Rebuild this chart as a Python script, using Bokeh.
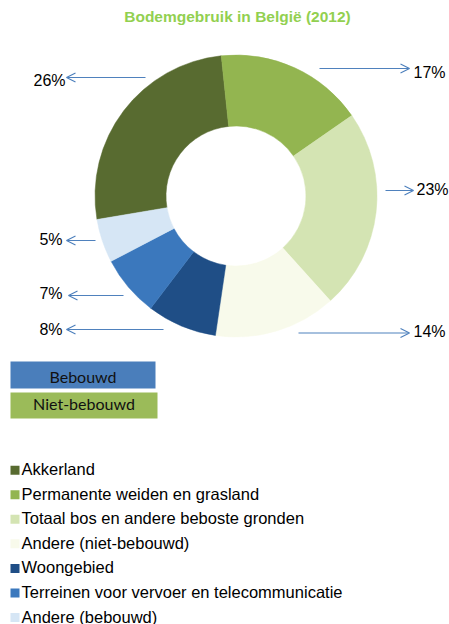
import math
from bokeh.plotting import figure
from bokeh.models import Range1d, Arrow, OpenHead, ColumnDataSource
from bokeh.core.properties import value
from bokeh.embed import file_html
from bokeh.resources import INLINE

# ---------------- data ----------------
title = "Bodemgebruik in België (2012)"
categories = [
    "Akkerland",
    "Permanente weiden en grasland",
    "Totaal bos en andere beboste gronden",
    "Andere (niet-bebouwd)",
    "Woongebied",
    "Terreinen voor vervoer en telecommunicatie",
    "Andere (bebouwd)",
]
shares = [26, 17, 23, 14, 8, 7, 5]  # percent
colors = ["#586B30", "#93B550", "#D4E4B3", "#F8FAEB", "#1F4E86", "#3B78BD", "#D6E6F5"]
groups = ["Bebouwd", "Niet-bebouwd"]
group_colors = ["#4A7EBB", "#9BBB59"]

# ---------------- layout (image pixel coords) ----------------
W, H = 449, 624


def Y(yimg):
    # convert image y (downwards) to data y (upwards)
    return H - yimg


p = figure(width=W, height=H, output_backend="svg", toolbar_location=None,
           x_range=Range1d(0, W), y_range=Range1d(0, H),
           min_border=0)
p.axis.visible = False
p.grid.visible = False
p.outline_line_color = None
p.background_fill_color = "white"

# title
p.text(x=[237], y=[Y(16)], text=[title], text_font=value("Liberation Sans"),
       text_font_size="15.5px", text_font_style="bold", text_color="#92D050",
       text_align="center", text_baseline="middle")

# donut
cx, cy = 235.5, 195.5
r_out, r_in = 141, 70
start_deg = 260.4  # clockwise from top, where the first slice begins
total = sum(shares)
starts, ends = [], []
acc = start_deg
for s in shares:
    a = acc
    b = acc + s / total * 360.0
    starts.append(math.pi / 2 - math.radians(a))
    ends.append(math.pi / 2 - math.radians(b))
    acc = b
src = ColumnDataSource(dict(start=starts, end=ends, color=colors, name=categories))
p.annular_wedge(x=cx, y=Y(cy), inner_radius=r_in, outer_radius=r_out,
                start_angle="start", end_angle="end", direction="clock",
                fill_color="color", line_color="color", line_width=0.5, source=src)

# percentage labels with leader arrows (layout per slice)
# (arrow start x, arrow end x, arrow y, label x, label y, align)
label_layout = [
    (145, 66, 77, 65, 80, "right"),
    (319, 409, 68, 413, 72, "left"),
    (385, 413, 190, 416, 188.5, "left"),
    (298, 409, 332.5, 413, 331, "left"),
    (163, 66, 329, 62, 328.5, "right"),
    (123, 68, 295, 62, 293, "right"),
    (95, 66, 240, 62, 239, "right"),
]
for s, (xs, xe, ya, lx, ly, al) in zip(shares, label_layout):
    p.add_layout(Arrow(end=OpenHead(size=9, line_color="#4F81BD", line_width=1.2),
                       x_start=xs, y_start=Y(ya), x_end=xe, y_end=Y(ya),
                       line_color="#4F81BD", line_width=1.2))
    p.text(x=[lx], y=[Y(ly)], text=[f"{s}%"], text_font=value("Liberation Sans"),
           text_font_size="16px", text_color="black", text_align=al,
           text_baseline="middle")

# group boxes
box_layout = [(10, 155, 361, 388, 375.5), (10, 157, 392, 418, 403)]
for g, c, (l, r, t, b, ty) in zip(groups, group_colors, box_layout):
    p.quad(left=[l], right=[r], top=[Y(t)], bottom=[Y(b)], fill_color=c, line_color=None)
    p.text(x=[(l + r) / 2], y=[Y(ty)], text=[g], text_font=value("Lato"),
           text_font_size="16px", text_color="#111111", text_align="center",
           text_baseline="middle")

# legend
leg_y0, leg_dy = 468.7, 24.55
for i, (cat, col) in enumerate(zip(categories, colors)):
    yy = leg_y0 + i * leg_dy
    p.rect(x=[14.5], y=[Y(yy + 1)], width=9, height=9, fill_color=col, line_color=None)
    p.text(x=[21], y=[Y(yy)], text=[cat], text_font=value("Liberation Sans"),
           text_font_size="16.5px", text_color="black", text_align="left",
           text_baseline="middle")

open("out.html", "w").write(file_html(p, INLINE))
